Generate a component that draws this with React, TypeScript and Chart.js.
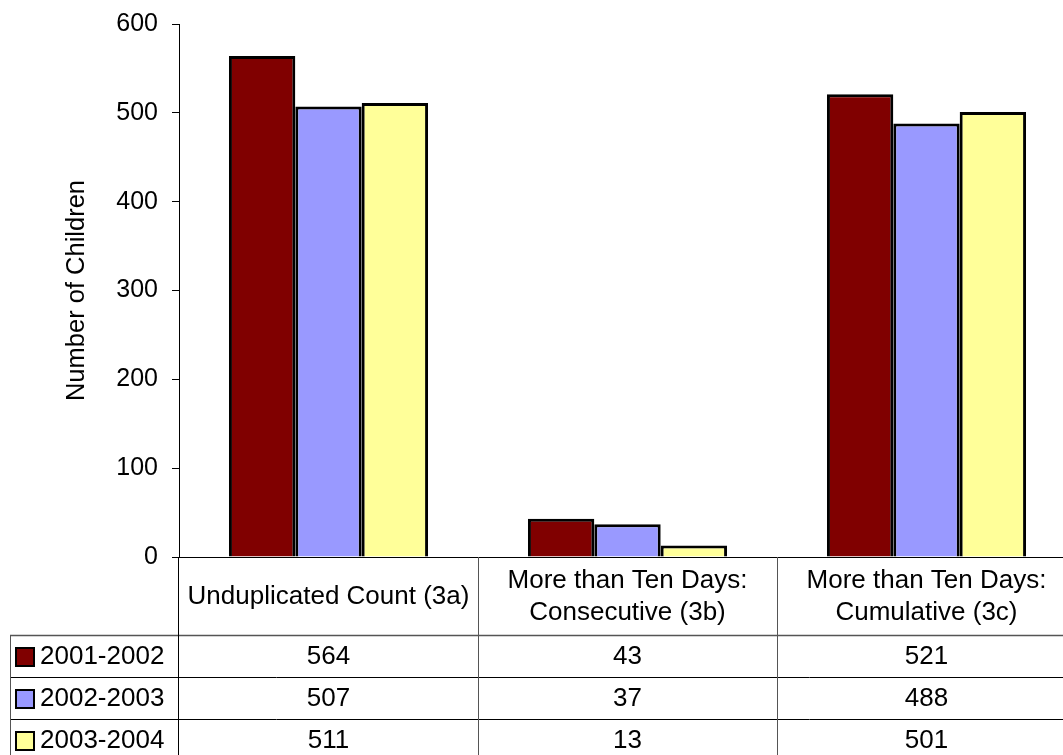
import React, { useEffect, useRef } from "react";
import { Chart, registerables } from "chart.js";

Chart.register(...registerables);

const categories: string[][] = [
  ["Unduplicated Count (3a)"],
  ["More than Ten Days:", "Consecutive (3b)"],
  ["More than Ten Days:", "Cumulative (3c)"],
];
const seriesLabels = ["2001-2002", "2002-2003", "2003-2004"];
const values2001_2002 = [564, 43, 521];
const values2002_2003 = [507, 37, 488];
const values2003_2004 = [511, 13, 501];
const seriesColors = ["#800000", "#9999FF", "#FFFF99"];
const yAxisTitle = "Number of Children";
const yMin = 0;
const yMax = 600;
const yStep = 100;

const FONT = "'Liberation Sans', Arial, sans-serif";

const tablePlugin = {
  id: "dataTable",
  afterDraw(chart: any) {
    const { ctx, chartArea, scales } = chart;
    const xs = scales.x;
    const left = chartArea.left;
    const right = chartArea.right;
    const bottom = chartArea.bottom;
    const H = chart.height;
    const headerBottom = bottom + 78;
    const rowH = 42;
    const tableLeft = 10;
    const n = chart.data.labels.length;

    ctx.save();
    ctx.lineWidth = 1;
    ctx.strokeStyle = "#000";
    for (let r = 0; r < 3; r++) {
      const y = Math.round(headerBottom + r * rowH) + 0.5;
      ctx.strokeStyle = r === 0 ? "#555" : "#000";
      ctx.lineWidth = r === 0 ? 1.5 : 1;
      ctx.beginPath();
      ctx.moveTo(tableLeft, y);
      ctx.lineTo(right, y);
      ctx.stroke();
    }
    ctx.lineWidth = 1;
    const vline = (x: number, y0: number, y1: number, color: string) => {
      ctx.strokeStyle = color;
      ctx.beginPath();
      ctx.moveTo(Math.round(x) + 0.5, y0);
      ctx.lineTo(Math.round(x) + 0.5, y1);
      ctx.stroke();
    };
    vline(left - 1, bottom, H, "#000");
    vline(tableLeft, headerBottom, H, "#555");
    for (let i = 1; i < n; i++) {
      const bx = (xs.getPixelForValue(i - 1) + xs.getPixelForValue(i)) / 2;
      vline(bx, bottom, H, "#555");
    }
    vline(right, bottom, H, "#555");

    ctx.fillStyle = "#000";
    ctx.font = `26px ${FONT}`;
    ctx.textAlign = "center";
    ctx.textBaseline = "middle";
    const headerMid = (bottom + headerBottom) / 2;
    const lh = 32;
    chart.data.labels.forEach((lab: string[], i: number) => {
      const cx = xs.getPixelForValue(i);
      const lines = Array.isArray(lab) ? lab : [lab];
      const start = headerMid - ((lines.length - 1) * lh) / 2;
      lines.forEach((t: string, k: number) => ctx.fillText(t, cx, start + k * lh + 1));
    });

    chart.data.datasets.forEach((ds: any, d: number) => {
      const cy = headerBottom + d * rowH + rowH / 2;
      ctx.textAlign = "center";
      ds.data.forEach((v: number, i: number) => {
        ctx.fillText(String(v), xs.getPixelForValue(i), cy + 1);
      });
      ctx.fillStyle = ds.backgroundColor;
      ctx.fillRect(16, cy - 8, 18, 18);
      ctx.strokeStyle = "#000";
      ctx.lineWidth = 2;
      ctx.strokeRect(16, cy - 8, 18, 18);
      ctx.fillStyle = "#000";
      ctx.textAlign = "left";
      ctx.fillText(ds.label, 40, cy + 1);
    });
    ctx.restore();
  },
};

export default function App() {
  const ref = useRef<HTMLCanvasElement | null>(null);
  useEffect(() => {
    if (!ref.current) return;
    const seriesValues = [values2001_2002, values2002_2003, values2003_2004];
    const chart = new Chart(ref.current, {
      type: "bar",
      data: {
        labels: categories as any,
        datasets: seriesLabels.map((label, i) => ({
          label,
          data: seriesValues[i],
          backgroundColor: seriesColors[i],
          borderColor: "#000",
          borderWidth: 3,
          borderSkipped: "bottom",
          categoryPercentage: 0.666,
          barPercentage: 1,
        })),
      },
      options: {
        animation: false,
        responsive: false,
        layout: { padding: { top: 24, right: 4, bottom: 198, left: 0 } },
        plugins: { legend: { display: false }, tooltip: { enabled: false } },
        scales: {
          x: {
            grid: { display: false },
            ticks: { display: false },
            border: { display: true, color: "#000", width: 1 },
            afterFit: (s: any) => {
              s.height = 0;
            },
          },
          y: {
            min: yMin,
            max: yMax,
            ticks: {
              stepSize: yStep,
              color: "#000",
              font: { family: FONT, size: 25 },
              padding: 14,
            },
            grid: { drawOnChartArea: false, tickLength: 7, color: "#000" },
            border: { display: true, color: "#000", width: 1 },
            title: {
              display: true,
              text: yAxisTitle,
              color: "#000",
              font: { family: FONT, size: 25.5 },
              padding: { top: 62, bottom: 0 },
            },
            afterFit: (s: any) => {
              s.width = 179;
              s.paddingTop = 0;
              s.paddingBottom = 0;
            },
          },
        },
      },
      plugins: [tablePlugin],
    });
    return () => chart.destroy();
  }, []);
  return (
    <div
      style={{
        position: "absolute",
        left: 0,
        top: 0,
        width: 1063,
        height: 755,
        overflow: "hidden",
        background: "#fff",
      }}
    >
      <canvas ref={ref} width={1080} height={755} style={{ width: 1080, height: 755, display: "block" }} />
    </div>
  );
}
